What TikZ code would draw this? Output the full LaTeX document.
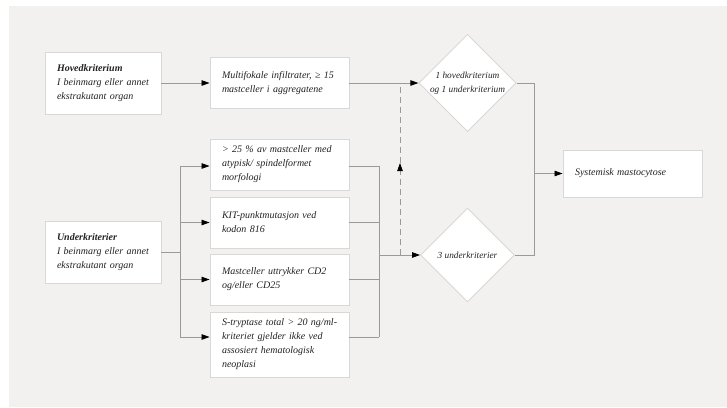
\documentclass[tikz,border=0pt]{standalone}
\usepackage{fontspec}
\setmainfont{Liberation Serif}
\usetikzlibrary{arrows.meta,shapes.geometric}
\definecolor{bg}{HTML}{F2F1EF}
\definecolor{bord}{HTML}{D8D8D8}
\definecolor{lncol}{HTML}{9A9A9A}
\definecolor{txt}{HTML}{222222}
\newcommand{\lbx}[1]{\mbox{#1}}
\begin{document}
\begin{tikzpicture}[x=1pt,y=-1pt,
  box/.style={draw=bord,line width=0.9pt,fill=white,inner xsep=12pt,inner ysep=0pt,
    align=left,font=\itshape\fontsize{10}{14}\selectfont,text=txt,anchor=center},
  dia/.style={diamond,aspect=1,draw=bord,line width=0.9pt,fill=white,minimum width=94pt,
    minimum height=94pt,inner sep=0pt,align=center,font=\itshape\fontsize{9.3}{14}\selectfont,text=txt},
  conn/.style={draw=lncol,line width=0.8pt},
  arr/.style={conn,-{Triangle[length=8pt,width=5.5pt,color=black]}},
  dsh/.style={dash pattern=on 6pt off 4pt}
]
\useasboundingbox (0,0) rectangle (727,407);
\fill[bg] (9,6) rectangle (727,407);

\node[box,text width=92pt,minimum height=62pt] (hoved) at (103,83)
  {\lbx{\textbf{Hovedkriterium}}\\\lbx{I beinmarg eller annet}\\\lbx{ekstrakutant organ}};
\node[box,text width=92pt,minimum height=62pt] (under) at (103,252)
  {\lbx{\textbf{Underkriterier}}\\\lbx{I beinmarg eller annet}\\\lbx{ekstrakutant organ}};

\node[box,text width=115pt,minimum height=51pt] (multi) at (279.5,83)
  {\lbx{Multifokale infiltrater, ≥ 15}\\\lbx{mastceller i aggregatene}};
\node[box,text width=115pt,minimum height=51pt] (atyp) at (279.5,164.5)
  {\lbx{> 25 \% av mastceller med}\\\lbx{atypisk/ spindelformet}\\\lbx{morfologi}};
\node[box,text width=115pt,minimum height=51pt] (kit) at (279.5,222.5)
  {\lbx{KIT-punktmutasjon ved}\\\lbx{kodon 816}};
\node[box,text width=115pt,minimum height=51pt] (cd) at (279.5,279.5)
  {\lbx{Mastceller uttrykker CD2}\\\lbx{og/eller CD25}};
\node[box,text width=115pt,minimum height=65pt] (stry) at (279.5,344.5)
  {\lbx{S-tryptase total > 20 ng/ml-}\\\lbx{kriteriet gjelder ikke ved}\\\lbx{assosiert hematologisk}\\\lbx{neoplasi}};

\node[dia] (d1) at (467.5,83) {1 hovedkriterium\\og 1 underkriterium};
\node[dia] (d2) at (467.5,255) {3 underkriterier};

\node[box,text width=115pt,minimum height=47pt] (sys) at (632.5,173.5)
  {\lbx{Systemisk mastocytose}};

% left connections
\coordinate (brtop) at (180,166);
\coordinate (brbot) at (180,337);
\coordinate (brmid) at (180,252);
\draw[arr] (hoved.east) -- (multi.west);
\draw[conn] (under.east) -- (brmid);
\draw[conn] (brtop) -- (brbot);
\draw[arr] (brtop) -- (atyp.west |- brtop);
\draw[arr] (kit.west -| brtop) -- (kit.west);
\draw[arr] (cd.west -| brtop) -- (cd.west);
\draw[arr] (brbot) -- (stry.west |- brbot);

% collecting lines
\coordinate (ctop) at (379,166);
\coordinate (cbot) at (379,337);
\coordinate (cmid) at (379,255);
\draw[conn] (atyp.east |- ctop) -- (ctop);
\draw[conn] (kit.east) -- (kit.east -| ctop);
\draw[conn] (cd.east) -- (cd.east -| ctop);
\draw[conn] (stry.east |- cbot) -- (cbot);
\draw[conn] (ctop) -- (cbot);
\draw[arr] (cmid) -- (d2.west);
\draw[arr] (multi.east) -- (d1.west);

% dashed
\coordinate (dbot) at (400,255);
\coordinate (dtip) at (400,163);
\coordinate (dtop) at (400,83);
\draw[conn,dsh] (dtip) -- (dtop);
\draw[arr,dsh] (dbot) -- (dtip);

% right side
\coordinate (rtop) at (534,83);
\coordinate (rbot) at (534,255);
\coordinate (rmid) at (534,173.5);
\draw[conn] (d1.east) -- (rtop) -- (rbot) -- (d2.east);
\draw[arr] (rmid) -- (sys.west);
\end{tikzpicture}
\end{document}
